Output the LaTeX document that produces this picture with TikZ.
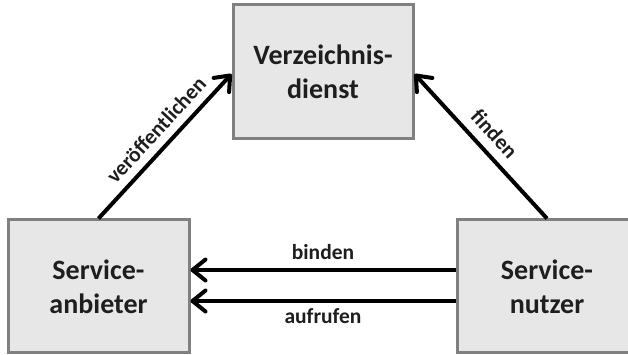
\documentclass[tikz,border=0pt]{standalone}
\usepackage{fontspec}
\setmainfont{Carlito}
\usetikzlibrary{arrows.meta,calc}
\definecolor{boxfill}{RGB}{231,231,231}
\definecolor{boxline}{RGB}{128,128,128}
\definecolor{txt}{RGB}{30,30,30}
\tikzset{
  box/.style={draw=boxline,fill=boxfill,line width=3pt,minimum width=180pt,minimum height=133pt,
    align=center,font=\bfseries\fontsize{28}{34}\selectfont,text=txt,inner sep=0pt},
  conn/.style={line width=4pt,-{Straight Barb[length=13pt,width=21pt,round]}},
  lbl/.style={font=\bfseries\fontsize{21.5}{24}\selectfont,text=txt},
}
\begin{document}
\begin{tikzpicture}[x=1pt,y=1pt]
\useasboundingbox (0,0) rectangle (628,355);
\clip (0,0) rectangle (628,355);
\node[box,minimum width=180pt,minimum height=134pt] (dienst) at (323,283) {Verzeichnis-\\dienst};
\node[box,minimum width=181pt] (anbieter) at (98.5,68.5) {Service-\\anbieter};
\node[box] (nutzer) at (547,68.5) {Service-\\nutzer};
\draw[conn] (anbieter.north) -- node[lbl,sloped,above,inner sep=8pt,pos=0.53] {veröffentlichen} ($(dienst.west)+(0,-2)$);
\draw[conn] (nutzer.north) -- node[lbl,sloped,above,inner sep=9pt] {finden} ($(dienst.east)+(0,-2)$);
\coordinate (b1) at ($(nutzer.west)+(0,16.5)$);
\coordinate (b2) at ($(nutzer.west)+(0,-14.5)$);
\draw[conn] (b1) -- node[lbl,above,inner sep=8pt] {binden} (b1 -| anbieter.east);
\draw[conn] (b2) -- node[lbl,below,inner sep=6pt] {aufrufen} (b2 -| anbieter.east);
\end{tikzpicture}
\end{document}
